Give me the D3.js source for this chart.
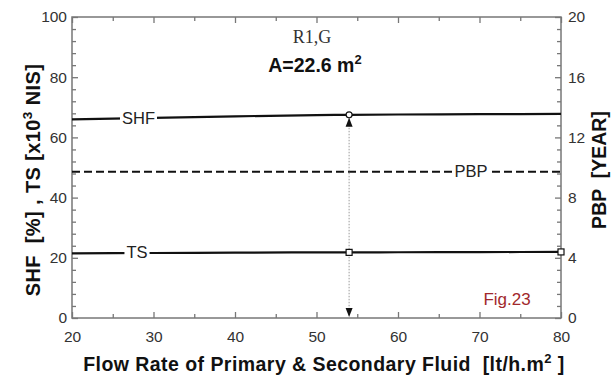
<!DOCTYPE html>
<html><head><meta charset="utf-8">
<script src="https://cdn.jsdelivr.net/npm/d3@7"></script>
<style>body{margin:0;background:#fff;} svg{display:block;} text{white-space:pre;}</style>
</head><body>
<svg id="c" width="616" height="378"></svg>
<script>
const flow = [20, 30, 40, 50, 54, 60, 70, 80];
const shf  = [66.0, 66.5, 67.0, 67.4, 67.5, 67.6, 67.7, 67.8];
const ts   = [21.5, 21.6, 21.7, 21.8, 21.8, 21.85, 21.9, 21.95];
const pbp  = [9.72, 9.72, 9.72, 9.72, 9.72, 9.72, 9.72, 9.72];
const xTicks = [20, 30, 40, 50, 60, 70, 80];
const yLeftTicks = [0, 20, 40, 60, 80, 100];
const yRightTicks = [0, 4, 8, 12, 16, 20];
const optimum = 54;

const svg = d3.select("#c");
const L = 72, R = 561, T = 17, B = 318;
const x = d3.scaleLinear().domain([20, 80]).range([L, R]);
const yL = d3.scaleLinear().domain([0, 100]).range([B, T]);
const yR = d3.scaleLinear().domain([0, 20]).range([B, T]);
const axisColor = "#777", txt = "#333", font = "'Liberation Sans', Arial, sans-serif";

// frame
svg.append("rect").attr("x", L).attr("y", T).attr("width", R - L).attr("height", B - T)
  .attr("fill", "none").attr("stroke", axisColor).attr("stroke-width", 1.5);

function styleAxis(g) {
  g.select(".domain").remove();
  g.selectAll("line").attr("stroke", axisColor).attr("stroke-width", 1.3);
  g.selectAll("text").attr("fill", txt).style("font-family", font).style("font-size", "15.5px");
}
// bottom
svg.append("g").attr("transform", `translate(0,${B})`)
  .call(d3.axisBottom(x).tickValues(xTicks).tickSize(-6).tickPadding(13).tickFormat(d3.format("d"))).call(styleAxis);
svg.append("g").attr("transform", `translate(0,${B})`)
  .call(d3.axisBottom(x).tickValues(d3.range(25, 80, 10)).tickSize(-4).tickFormat("")).call(styleAxis);
// top
svg.append("g").attr("transform", `translate(0,${T})`)
  .call(d3.axisTop(x).tickValues(xTicks).tickSize(-6).tickFormat("")).call(styleAxis);
svg.append("g").attr("transform", `translate(0,${T})`)
  .call(d3.axisTop(x).tickValues(d3.range(25, 80, 10)).tickSize(-4).tickFormat("")).call(styleAxis);
// left
svg.append("g").attr("transform", `translate(${L},0)`)
  .call(d3.axisLeft(yL).tickValues(yLeftTicks).tickSize(-6).tickPadding(5)).call(styleAxis);
svg.append("g").attr("transform", `translate(${L},0)`)
  .call(d3.axisLeft(yL).tickValues(d3.range(0, 101, 4).filter(v => v % 20)).tickSize(-4).tickFormat("")).call(styleAxis);
// right
svg.append("g").attr("transform", `translate(${R},0)`)
  .call(d3.axisRight(yR).tickValues(yRightTicks).tickSize(-6).tickPadding(7)).call(styleAxis);
svg.append("g").attr("transform", `translate(${R},0)`)
  .call(d3.axisRight(yR).tickValues(d3.range(0, 20.01, 0.8).filter(v => Math.abs(v / 4 - Math.round(v / 4)) > 0.01)).tickSize(-4).tickFormat("")).call(styleAxis);

// lines
const lineL = d3.line().x((d, i) => x(flow[i])).y(d => yL(d)).curve(d3.curveMonotoneX);
const lineR = d3.line().x((d, i) => x(flow[i])).y(d => yR(d));
svg.append("path").attr("d", lineL(shf)).attr("fill", "none").attr("stroke", "#111").attr("stroke-width", 2.2);
svg.append("path").attr("d", lineL(ts)).attr("fill", "none").attr("stroke", "#111").attr("stroke-width", 2.2);
svg.append("path").attr("d", lineR(pbp)).attr("fill", "none").attr("stroke", "#111").attr("stroke-width", 2)
  .attr("stroke-dasharray", "8,4");

// optimum vertical dotted line
const io = flow.indexOf(optimum);
const xo = x(optimum);
svg.append("line").attr("x1", xo).attr("x2", xo).attr("y1", yL(shf[io]) + 4).attr("y2", B - 2)
  .attr("stroke", "#999").attr("stroke-width", 1).attr("stroke-dasharray", "1.5,1.5");
// arrows
const ySh = yL(shf[io]);
svg.append("path").attr("d", `M${xo},${ySh + 3} L${xo - 3.5},${ySh + 12} L${xo + 3.5},${ySh + 12} Z`).attr("fill", "#111");
svg.append("path").attr("d", `M${xo},${B - 1} L${xo - 3.5},${B - 10} L${xo + 3.5},${B - 10} Z`).attr("fill", "#111");

// markers
svg.append("circle").attr("cx", xo).attr("cy", ySh).attr("r", 3).attr("fill", "#fff").attr("stroke", "#111").attr("stroke-width", 1.2);
[[optimum, ts[io]], [80, ts[ts.length - 1]]].forEach(([fx, v]) => {
  svg.append("rect").attr("x", x(fx) - 3).attr("y", yL(v) - 3).attr("width", 6).attr("height", 6)
    .attr("fill", "#fff").attr("stroke", "#111").attr("stroke-width", 1.2);
});

// inline labels
function inlineLabel(t, cx, cy) {
  const g = svg.append("g");
  const te = g.append("text").attr("x", cx).attr("y", cy).attr("text-anchor", "middle").attr("dy", "0.35em")
    .attr("fill", "#222").style("font-family", font).style("font-size", "16.5px").text(t);
  const bb = te.node().getBBox();
  g.insert("rect", "text").attr("x", bb.x - 2).attr("y", cy - 4).attr("width", bb.width + 4).attr("height", 8).attr("fill", "#fff");
}
inlineLabel("SHF", 138.5, yL(66.2) - 1);
inlineLabel("TS", 137, yL(21.55) - 1);
inlineLabel("PBP", 471, yR(pbp[0]));

// titles
svg.append("text").attr("x", 312).attr("y", 43).attr("text-anchor", "middle").attr("fill", "#333")
  .style("font-family", "'Liberation Serif', 'Times New Roman', serif").style("font-size", "18px").text("R1,G");
const a = svg.append("text").attr("x", 315).attr("y", 72).attr("text-anchor", "middle").attr("fill", "#111")
  .style("font-family", font).style("font-size", "19.5px").style("font-weight", "bold");
a.append("tspan").text("A=22.6 m");
a.append("tspan").attr("dy", -8).style("font-size", "13px").text("2");

svg.append("text").attr("x", 507).attr("y", 305).attr("text-anchor", "middle").attr("fill", "#a1282c")
  .style("font-family", font).style("font-size", "17px").text("Fig.23");

// axis titles
const xt = svg.append("text").attr("x", 324).attr("y", 371).attr("text-anchor", "middle").attr("fill", "#111")
  .style("font-family", font).style("font-size", "19.5px").style("font-weight", "bold").style("letter-spacing", "0.45px");
xt.append("tspan").text("Flow Rate of Primary & Secondary Fluid  [lt/h.m");
xt.append("tspan").attr("dy", -8).style("font-size", "13px").text("2");
xt.append("tspan").attr("dy", 8).text(" ]");

const yt = svg.append("text").attr("transform", `translate(40,180) rotate(-90)`).attr("text-anchor", "middle").attr("fill", "#111")
  .style("font-family", font).style("font-size", "20px").style("font-weight", "bold").style("letter-spacing", "0.4px");
yt.append("tspan").text("SHF  [%] , TS [x10");
yt.append("tspan").attr("dy", -8).style("font-size", "13.5px").text("3");
yt.append("tspan").attr("dy", 8).text(" NIS]");

svg.append("text").attr("transform", `translate(606,170) rotate(-90)`).attr("text-anchor", "middle").attr("fill", "#111")
  .style("font-family", font).style("font-size", "19.5px").style("font-weight", "bold").text("PBP  [YEAR]");
</script>
</body></html>
